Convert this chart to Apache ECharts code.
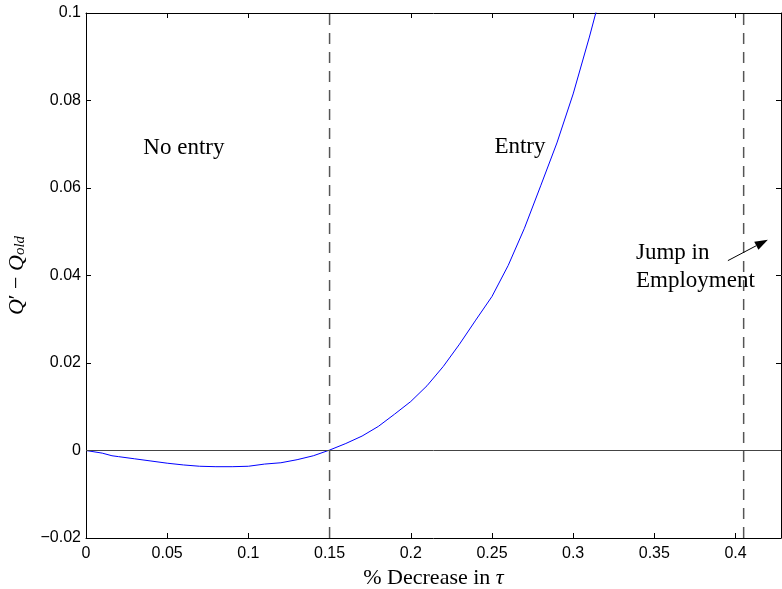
<!DOCTYPE html>
<html>
<head>
<meta charset="utf-8">
<script src="https://cdn.jsdelivr.net/npm/echarts@6/dist/echarts.min.js"></script>
<style>
  html, body { margin: 0; padding: 0; background: #ffffff; }
  #chart { width: 782px; height: 589px; }
</style>
</head>
<body>
<div id="chart"></div>
<script>
// Percentage decrease in tau and the resulting change in Q
const tauDecrease = [0, 0.01, 0.016, 0.02, 0.03, 0.04, 0.05, 0.06, 0.07, 0.08, 0.09, 0.10,
  0.11, 0.12, 0.13, 0.14, 0.15, 0.16, 0.17, 0.18, 0.19, 0.20, 0.21, 0.22, 0.23, 0.24,
  0.25, 0.26, 0.27, 0.28, 0.29, 0.30, 0.31, 0.32];
const qChange = [0, -0.0006, -0.0012, -0.0014, -0.0019, -0.0024, -0.0029, -0.0033, -0.0036,
  -0.0037, -0.0037, -0.0036, -0.0031, -0.0028, -0.0021, -0.0012, 0.0001, 0.0016, 0.0033,
  0.0055, 0.0083, 0.0112, 0.0148, 0.0192, 0.0243, 0.0298, 0.0352, 0.0423, 0.0508, 0.0605,
  0.0703, 0.0815, 0.0945, 0.1085];

// Regime thresholds (dashed verticals)
const entryThreshold = 0.15;
const employmentJump = 0.405;

// Axis ranges
const xRange = [0, 0.428];
const xStep = 0.05;
const yRange = [-0.02, 0.1];
const yStep = 0.02;

// Text annotations in data coordinates [x, baseline y]
const regionLabels = [
  { text: 'No entry', at: [0.0353, 0.0676] },
  { text: 'Entry', at: [0.2515, 0.0680] },
  { text: 'Jump in', at: [0.3387, 0.0436] },
  { text: 'Employment', at: [0.3387, 0.0373] }
];
const arrowFrom = [0.3953, 0.0434];
const arrowTo = [0.4199, 0.0482];

const sansFont = 'Liberation Sans';
const serifFont = 'Liberation Serif';
const labelSize = 23;

function fmtTick(v) {
  if (Math.abs(v) < 1e-9) return '0';
  let s = parseFloat(v.toFixed(4)).toString();
  return s.replace('-', '\u2212');
}
function isOnStep(v, min, step) {
  const k = (v - min) / step;
  return Math.abs(k - Math.round(k)) < 1e-6;
}

const chart = echarts.init(document.getElementById('chart'), null, { renderer: 'canvas' });

const axisLineStyle = { color: '#000', width: 1 };
const baseX = {
  type: 'value', min: xRange[0], max: xRange[1], interval: xStep,
  splitLine: { show: false },
  axisLine: { show: true, onZero: false, lineStyle: axisLineStyle },
  axisTick: { show: true, inside: true, length: 5, lineStyle: axisLineStyle }
};
const baseY = {
  type: 'value', min: yRange[0], max: yRange[1], interval: yStep,
  splitLine: { show: false },
  axisLine: { show: true, onZero: false, lineStyle: axisLineStyle },
  axisTick: { show: true, inside: true, length: 5, lineStyle: axisLineStyle }
};

// Vertical dashed guide drawn across the full y range
function guide(x) {
  return {
    type: 'line',
    data: [[x, yRange[0]], [x, yRange[1]]],
    showSymbol: false,
    silent: true,
    lineStyle: { type: [11, 8], color: '#555', width: 1.5 },
    z: 2
  };
}

chart.setOption({
  animation: false,
  backgroundColor: '#ffffff',
  grid: { left: 86, top: 13, right: 1, bottom: 51, containLabel: false, outerBoundsMode: 'none' },
  xAxis: [
    Object.assign({}, baseX, {
      position: 'bottom',
      axisLabel: {
        show: true, color: '#000', fontFamily: sansFont, fontSize: 16, margin: 8,
        showMaxLabel: false,
        formatter: v => isOnStep(v, xRange[0], xStep) ? fmtTick(v) : ''
      },
      name: '{r|% Decrease in }{i|\u03C4}',
      nameLocation: 'middle',
      nameGap: 25,
      nameTextStyle: {
        color: '#000', fontFamily: serifFont, fontSize: 22,
        rich: {
          r: { fontFamily: serifFont, fontSize: 22, color: '#000' },
          i: { fontFamily: serifFont, fontStyle: 'italic', fontSize: 22, color: '#000' }
        }
      }
    }),
    Object.assign({}, baseX, { position: 'top', axisLabel: { show: false } })
  ],
  yAxis: [
    Object.assign({}, baseY, {
      position: 'left',
      axisLabel: {
        show: true, color: '#000', fontFamily: sansFont, fontSize: 16, margin: 5,
        formatter: v => fmtTick(v)
      },
      name: '{i|Q}{p|\u2032 \u2212 }{i|Q}{s|old}',
      nameLocation: 'middle',
      nameGap: 58,
      nameRotate: 90,
      nameTextStyle: {
        color: '#000', fontFamily: serifFont, fontSize: 22,
        rich: {
          i: { fontFamily: serifFont, fontStyle: 'italic', fontSize: 22, color: '#000' },
          p: { fontFamily: serifFont, fontSize: 22, color: '#000' },
          s: { fontFamily: serifFont, fontStyle: 'italic', fontSize: 15, color: '#000',
               verticalAlign: 'bottom', padding: [6, 0, 0, 0] }
        }
      }
    }),
    Object.assign({}, baseY, { position: 'right', axisLabel: { show: false } })
  ],
  series: [
    {
      type: 'line',
      data: tauDecrease.map((x, i) => [x, qChange[i]]),
      showSymbol: false,
      clip: true,
      lineStyle: { color: '#0000ff', width: 1 },
      markLine: {
        silent: true,
        symbol: ['none', 'none'],
        label: { show: false },
        animation: false,
        data: [
          { yAxis: 0, lineStyle: { type: 'solid', color: '#444', width: 1 } }
        ]
      },
      z: 3
    },
    guide(entryThreshold),
    guide(employmentJump)
  ]
});

// Region labels and arrow placed through the axis scales
const toPx = p => chart.convertToPixel({ xAxisIndex: 0, yAxisIndex: 0 }, p);
const descent = Math.round(labelSize * 0.22);
const graphics = regionLabels.map(l => {
  const p = toPx(l.at);
  return {
    type: 'text', x: p[0], y: p[1] + descent,
    style: { text: l.text, fill: '#000', font: labelSize + 'px "' + serifFont + '"',
             align: 'left', verticalAlign: 'bottom' },
    z: 10
  };
});
const a0 = toPx(arrowFrom), a1 = toPx(arrowTo);
const dx = a1[0] - a0[0], dy = a1[1] - a0[1];
const len = Math.sqrt(dx * dx + dy * dy);
const ux = dx / len, uy = dy / len;
const headL = 13, headW = 4.5;
const bx = a1[0] - ux * headL, by = a1[1] - uy * headL;
graphics.push({
  type: 'line',
  shape: { x1: a0[0], y1: a0[1], x2: bx, y2: by },
  style: { stroke: '#000', lineWidth: 1 }, z: 10
});
graphics.push({
  type: 'polygon',
  shape: { points: [[a1[0], a1[1]], [bx - uy * headW, by + ux * headW], [bx + uy * headW, by - ux * headW]] },
  style: { fill: '#000' }, z: 10
});
chart.setOption({ graphic: graphics });
</script>
</body>
</html>
